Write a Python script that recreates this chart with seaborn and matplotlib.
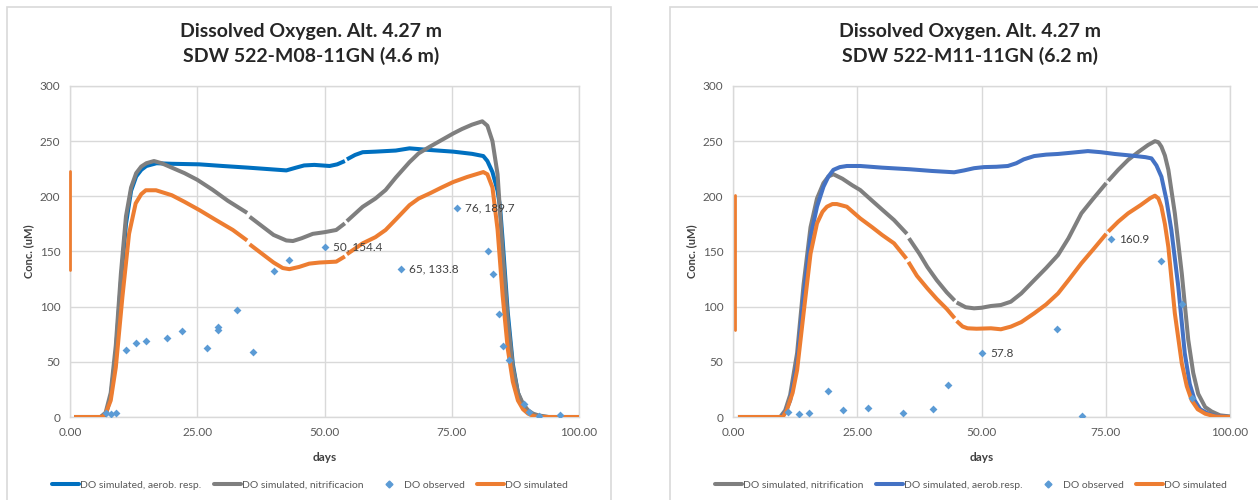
import numpy as np
import pandas as pd
import matplotlib
matplotlib.use("Agg")
import matplotlib.pyplot as plt
from matplotlib.lines import Line2D
from matplotlib.patches import Rectangle
import seaborn as sns

# ---------------- DATA ----------------
nan = np.nan
# Left chart: SDW 522-M08-11GN (4.6 m)
L_aer_x = [0.8, 6, 7, 8, 9, 10, 11, 12, 13, 14, 15, 17, 20, 25.4, 30, 35, 41, 42.5, 44.4, 46, 48, 51, 52.5, 54.0, nan,
           54.4, 56, 57.5, 60, 62, 64, 66.7, 70.7, 75.3, 79, 81.2, 82, 83, 84, 84.5, 85, 86, 87, 88, 89, 90, 91, 92, 94, 100]
L_aer_y = [0, 0, 2, 18, 58, 122, 175, 205, 218, 224, 227.5, 230, 229.5, 229, 227.5, 226, 224, 223.5, 226, 228, 228.5, 227.5, 229, 232, nan,
           233.5, 237.5, 240, 240.5, 241, 241.5, 243.5, 242, 240.5, 238.5, 236.5, 232, 222, 205, 190, 160, 95, 48, 22, 10, 5, 2, 0.5, 0, 0]

L_nit_x = [0.8, 6, 7, 8, 9, 10, 11, 12, 13, 14, 15, 16.5, 18, 20, 22.5, 25, 28, 31, 34.8, nan,
           35.3, 38, 40, 42.5, 43.8, 45.5, 47.7, 50, 52.3, 54.0, nan,
           54.4, 57.5, 60, 62, 64, 66.7, 68.5, 70.7, 73, 75.3, 77, 79, 81, 82, 83, 84, 85, 86, 87, 88, 89, 90, 91, 92, 94, 100]
L_nit_y = [0, 0, 4, 22, 65, 130, 182, 208, 221, 227, 230, 232, 230, 226, 221, 215, 206, 196, 185, nan,
           181.5, 172, 165, 160, 159.5, 162, 166, 167.5, 169.5, 175.5, nan,
           177.5, 190.5, 198, 205.7, 217, 231, 239, 245, 251, 257, 261, 265, 268, 264, 250, 220, 150, 88, 45, 22, 12, 6, 3, 1.5, 0, 0]

L_sim_x = [0.8, 6.3, 7, 8, 9, 10.3, 11.6, 12.9, 14, 14.9, 16.9, 20, 22.5, 25.4, 28.5, 32, 34.8, nan,
           35.3, 38, 40, 41.8, 43.1, 45, 47, 49, 52.3, 54.0, nan,
           54.4, 57.5, 60, 62, 64, 66.7, 68.5, 70.7, 73, 75.3, 78, 81.2, 82, 83, 84, 85, 86, 87, 88, 89, 90, 91, 92, 100]
L_sim_y = [0, 0, 3, 15, 45, 109, 166, 193.6, 202, 205.5, 205.5, 201, 195, 187.6, 179, 169.5, 160, nan,
           156.5, 147, 140, 135, 134, 136, 139, 140, 140.8, 145.5, nan,
           147.5, 157.4, 163, 169.5, 179, 192, 198, 202.7, 208, 213, 217.5, 222, 220, 208, 170, 110, 62, 32, 15, 7, 3, 1, 0, 0]

L_obs_x = [7, 8, 9, 11, 12.9, 14.9, 19, 22, 27, 29, 29, 32.9, 36, 40, 43.1, 50, 65, 76,
           82.1, 83.1, 84.2, 85.1, 86.2, 89.2, 90.2, 92.2, 96.3]
L_obs_y = [3.3, 3, 4, 60.7, 66.8, 68.6, 71.3, 78, 62.9, 81.9, 78.8, 97, 59, 132, 142, 154.4, 133.8, 189.7,
           150.7, 130, 93.4, 64.7, 51.7, 11.8, 4.8, 1, 2]
L_labels = [(50, 154.4, "50, 154.4"), (65, 133.8, "65, 133.8"), (76, 189.7, "76, 189.7")]
L_bar = (0, 133, 223)

# Right chart: SDW 522-M11-11GN (6.2 m)
R_nit_x = [1, 9.5, 10.5, 11.5, 12.9, 14.2, 15.6, 16.9, 18.2, 19.2, 20.2, 22, 24, 25.6, 28, 30, 32.4, 35.0, nan,
           35.4, 37.5, 39.1, 41, 43, 44.6, nan,
           45.0, 46.8, 48.5, 50, 51.9, 53.9, 55.9, 58, 60.6, 63, 65.4, 67.5, 70.1, 72.5, 75.1, nan,
           75.5, 77.5, 79.5, 81.5, 83.5, 84.9, 85.6, 86.2, 86.9, 87.6, 88.9, 90.3, 91.6, 92.6, 93.6, 95, 96.3, 98, 100]
R_nit_y = [0, 0, 6, 20, 58, 120, 172, 198, 212, 218, 220, 216, 210, 205.7, 196, 188, 178.5, 166, nan,
           162, 148, 136, 124, 113, 105.5, nan,
           103.8, 99.5, 98.5, 99, 100.6, 101.5, 104.5, 112, 124, 135, 146.8, 162, 184.6, 198, 212, nan,
           214, 224, 233, 240, 246.5, 250, 249, 245, 237, 224, 184.6, 130, 70, 40, 21, 9, 5, 1.5, 0.5]

R_aer_x = [1, 9.8, 10.5, 11.5, 12.9, 14.2, 15.6, 16.9, 18.2, 19.2, 20.2, 21.5, 22.9, 25.6, 30, 35.7, 40, 44.5, 46.5,
           48.5, 50.5, 53, 55.3, 57, 58.5, 60.6, 63, 65.4, 68, 71.4, 74, 76.8, 80, 83, 84.2, 85.2, 86.2, 87.2,
           88.2, 89.6, 90.9, 91.9, 92.9, 94, 95.6, 97, 100]
R_aer_y = [0, 0, 4, 15, 48.6, 109, 163, 190.6, 208.7, 218, 224, 226.5, 227.5, 227.5, 226, 224.5, 223, 221.8, 223.5,
           225.5, 226.5, 226.8, 227.5, 230, 233.5, 236.5, 237.8, 238.4, 239.5, 241, 240, 238.4, 237, 235.5, 234.4, 228, 217.8, 197,
           169.5, 118, 57.7, 30, 15, 7, 3, 1, 0]

R_sim_x = [1, 10, 10.8, 12, 12.9, 14.2, 15.6, 16.9, 18, 18.9, 20, 20.9, 22.9, 25.6, 28, 30, 32.4, 34.9, nan,
           35.3, 37, 39.1, 41, 43, 44.6, nan,
           45.0, 46.2, 47.2, 49, 51.9, 53.9, 55.9, 58, 60.6, 63, 65.4, 67.5, 70.1, 72.5, 75.1, nan,
           75.5, 77.5, 79.5, 82, 84, 84.9, 85.6, 86.2, 86.9, 87.6, 88.9, 90.3, 91.3, 92.3, 93.5, 95, 97, 100]
R_sim_y = [0, 0, 6, 22, 42.6, 94, 148, 175.5, 186, 190.6, 193, 193, 190.6, 180, 172, 165, 157.4, 143.5, nan,
           140.5, 128, 116.6, 107, 98, 89.5, nan,
           87, 82, 80.4, 80, 80.4, 79.5, 81.9, 86, 94, 102, 112, 124, 139.3, 152, 166, nan,
           168, 177, 184.6, 192, 198.5, 200.6, 198, 190.6, 175, 154, 94, 48.6, 28, 15, 7, 3, 0.5, 0]

R_obs_x = [11, 13.2, 15.2, 19.2, 22.1, 27.1, 34.3, 40.3, 43.2, 50, 65.2, 70.2, 76, 86.2, 90.3, 92.3]
R_obs_y = [4.2, 2.4, 4, 23.6, 6.3, 7.9, 4, 7, 29, 57.8, 79.5, 1, 160.9, 141.7, 102, 17.5]
R_labels = [(50, 57.8, "57.8"), (76, 160.9, "160.9")]
R_bar = (0.4, 79, 201)

titles = ["Dissolved Oxygen. Alt. 4.27 m\nSDW 522-M08-11GN (4.6 m)",
          "Dissolved Oxygen. Alt. 4.27 m\nSDW 522-M11-11GN (6.2 m)"]
x_ticks = [0, 25, 50, 75, 100]
y_ticks = [0, 50, 100, 150, 200, 250, 300]

# ---------------- STYLE ----------------
sns.set_theme(style="white")
plt.rcParams['font.family'] = ['Lato', 'DejaVu Sans']

C_BLUE_L = "#0070C0"
C_BLUE_R = "#4472C4"
C_GRAY = "#7F7F7F"
C_ORANGE = "#ED7D31"
C_OBS = "#5B9BD5"
C_GRID = "#D9D9D9"
C_TXT = "#595959"
LW = 2.9


def seg_frame(xs, ys):
    x = np.asarray(xs, float)
    y = np.asarray(ys, float)
    seg = np.cumsum(np.isnan(x))
    df = pd.DataFrame({"day": x, "conc": y, "seg": seg})
    return df.dropna()


def draw_line(ax, xs, ys, color, z):
    df = seg_frame(xs, ys)
    sns.lineplot(data=df, x="day", y="conc", units="seg", estimator=None, sort=False,
                 color=color, linewidth=LW, ax=ax, legend=False, zorder=z,
                 solid_capstyle="butt")


def draw_obs(ax, xs, ys, labels):
    sns.scatterplot(x=xs, y=ys, marker="D", s=16, color=C_OBS, edgecolor=C_OBS,
                    linewidth=0, ax=ax, zorder=10, legend=False)
    for xv, yv, t in labels:
        ax.annotate(t, (xv, yv), xytext=(6, 0), textcoords="offset points",
                    va="center", ha="left", fontsize=8.5, color="#404040", zorder=11)


fig = plt.figure(figsize=(12.58, 5.0), dpi=100)
W, H = 1258.0, 500.0

# chart frames
fig.patches.append(Rectangle((7 / W, -0.05), (611 - 7) / W, 1.05 - 7 / H,
                             transform=fig.transFigure, fill=False, edgecolor=C_GRID, linewidth=1.2))
fig.patches.append(Rectangle((670 / W, -0.05), 0.5, 1.05 - 7 / H,
                             transform=fig.transFigure, fill=False, edgecolor=C_GRID, linewidth=1.2))

axL = fig.add_axes([70 / W, 83 / H, 509 / W, 331 / H])
axR = fig.add_axes([733 / W, 83 / H, 497 / W, 331 / H])

# left
draw_line(axL, L_aer_x, L_aer_y, C_BLUE_L, 3)
draw_line(axL, L_nit_x, L_nit_y, C_GRAY, 4)
draw_line(axL, L_sim_x, L_sim_y, C_ORANGE, 5)
draw_obs(axL, L_obs_x, L_obs_y, L_labels)
axL.plot([L_bar[0], L_bar[0]], [L_bar[1], L_bar[2]], color=C_ORANGE, lw=2.0, zorder=6, clip_on=False)

# right
draw_line(axR, R_nit_x, R_nit_y, C_GRAY, 3)
draw_line(axR, R_aer_x, R_aer_y, C_BLUE_R, 4)
draw_line(axR, R_sim_x, R_sim_y, C_ORANGE, 5)
draw_obs(axR, R_obs_x, R_obs_y, R_labels)
axR.plot([R_bar[0], R_bar[0]], [R_bar[1], R_bar[2]], color=C_ORANGE, lw=2.0, zorder=6, clip_on=False)

for ax in (axL, axR):
    ax.set_xlim(0, 100)
    ax.set_ylim(0, 300)
    ax.set_xticks(x_ticks)
    ax.set_xticklabels([f"{v:.2f}" for v in x_ticks])
    ax.set_yticks(y_ticks)
    ax.set_yticklabels([str(v) for v in y_ticks])
    ax.grid(True, color=C_GRID, linewidth=1.0)
    ax.set_axisbelow(True)
    for s in ax.spines.values():
        s.set_color(C_GRID)
        s.set_linewidth(1.0)
    ax.tick_params(axis="both", length=0, labelsize=8.5, colors=C_TXT, pad=7)
    ax.set_xlabel("days", fontsize=8.5, fontweight="bold", color="#404040", labelpad=10)
    ax.set_ylabel("Conc. (uM)", fontsize=8, fontweight="bold", color="#404040", labelpad=4)

# titles
fig.text(311 / W, 1 - 44 / H, titles[0], ha="center", va="center", fontsize=14,
         fontweight="bold", color="#262626", linespacing=1.4)
fig.text(970 / W, 1 - 44 / H, titles[1], ha="center", va="center", fontsize=14,
         fontweight="bold", color="#262626", linespacing=1.4)


def lh(color, label):
    return Line2D([], [], color=color, lw=LW, label=label)


def obs_h():
    return Line2D([], [], color=C_OBS, marker="D", markersize=3.5, lw=0, label="DO observed")


handlesL = [lh(C_BLUE_L, "DO simulated, aerob. resp."), lh(C_GRAY, "DO simulated, nitrificacion"),
            obs_h(), lh(C_ORANGE, "DO simulated")]
handlesR = [lh(C_GRAY, "DO simulated, nitrification"), lh(C_BLUE_R, "DO simulated, aerob.resp."),
            obs_h(), lh(C_ORANGE, "DO simulated")]

for handles, cx in ((handlesL, 310), (handlesR, 971)):
    fig.legend(handles=handles, loc="center", bbox_to_anchor=(cx / W, 15 / H), ncol=4,
               frameon=False, fontsize=7.5, handlelength=2.6, handletextpad=0.1,
               columnspacing=1.2, labelcolor=C_TXT)

fig.savefig("out.png", dpi=100)
